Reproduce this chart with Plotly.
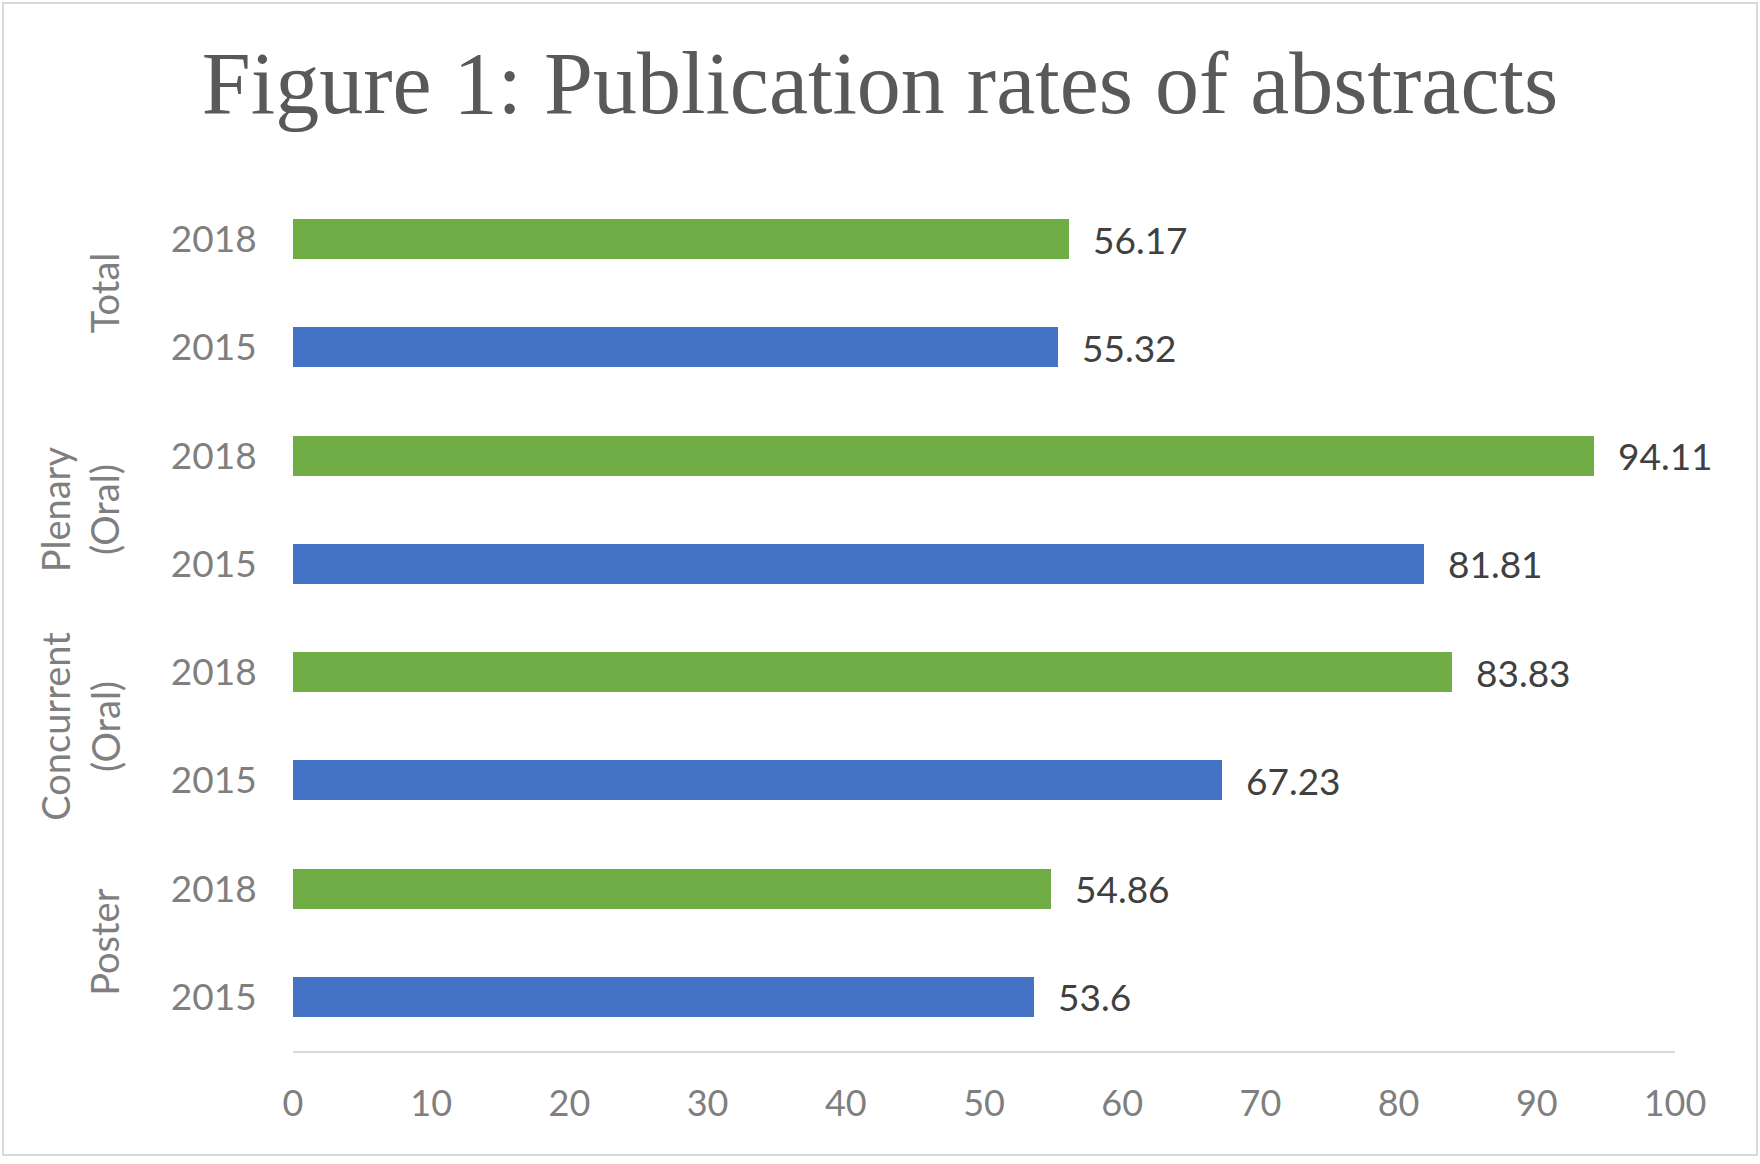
import plotly.graph_objects as go

groups = ["Poster", "Concurrent (Oral)", "Plenary (Oral)", "Total"]
group_labels = ["Poster", "Concurrent<br>(Oral)", "Plenary<br>(Oral)", "Total"]
years = ["2015", "2018"]
rate_2015 = [53.6, 67.23, 81.81, 55.32]
rate_2018 = [54.86, 83.83, 94.11, 56.17]
x_ticks = [0, 10, 20, 30, 40, 50, 60, 70, 80, 90, 100]

W, H = 1760, 1164
ML, MR, MT, MB = 293, 85, 185, 113

pos_2015 = [2 * i for i in range(len(groups))]
pos_2018 = [2 * i + 1 for i in range(len(groups))]

fig = go.Figure()
annotations = []
for yr, pos, vals, col in [("2015", pos_2015, rate_2015, "#4472C4"),
                           ("2018", pos_2018, rate_2018, "#70AD47")]:
    fig.add_trace(go.Bar(
        x=vals, y=pos, orientation="h", width=0.37,
        marker=dict(color=col, line=dict(width=0)),
        name=yr, showlegend=False, hoverinfo="skip",
    ))
    for v, p in zip(vals, pos):
        annotations.append(dict(
            text=f"{v:g}", x=v, xref="x", y=p, yref="y", xanchor="left",
            yanchor="middle", xshift=22, yshift=0, showarrow=False,
            font=dict(family="Lato", size=37, color="#404040"),
        ))

tickvals = []
ticktext = []
for i in range(len(groups)):
    tickvals += [pos_2015[i], pos_2018[i]]
    ticktext += years

for i, lab in enumerate(group_labels):
    annotations.append(dict(
        text=lab, x=0, xref="paper", y=(pos_2015[i] + pos_2018[i]) / 2, yref="y",
        xanchor="right", yanchor="middle", textangle=-90, xshift=-164,
        showarrow=False, align="center",
        font=dict(family="Lato", size=38, color="#7f7f7f"),
    ))

pw = W - ML - MR
ph = H - MT - MB
fig.add_shape(type="rect", xref="paper", yref="paper",
              x0=(3 - ML) / pw, x1=(W - 3 - ML) / pw,
              y0=-(H - 9 - MT - ph) / ph, y1=1 + (MT - 3) / ph,
              line=dict(color="#d9d9d9", width=2), fillcolor="rgba(0,0,0,0)", layer="below")

fig.update_layout(
    width=W, height=H,
    margin=dict(l=ML, r=MR, t=MT, b=MB),
    paper_bgcolor="white", plot_bgcolor="white",
    title=dict(text="Figure 1: Publication rates of abstracts", x=0.5, xref="container",
               xanchor="center", y=1 - 82 / H, yref="container", yanchor="middle",
               font=dict(family="Liberation Serif", size=88, color="#595959")),
    xaxis=dict(range=[0, 100], tickvals=x_ticks, showgrid=False, zeroline=False,
               showline=True, linecolor="#d9d9d9", linewidth=2,
               ticks="outside", ticklen=20, tickcolor="rgba(0,0,0,0)",
               tickfont=dict(family="Lato", size=36, color="#7f7f7f")),
    yaxis=dict(range=[-0.5, 7.5], tickvals=tickvals, ticktext=ticktext,
               showgrid=False, zeroline=False, showline=False,
               ticks="outside", ticklen=28, tickcolor="rgba(0,0,0,0)",
               tickfont=dict(family="Lato", size=37, color="#7f7f7f")),
    annotations=annotations,
    bargap=0,
)

fig.write_html("out.html", config={"displayModeBar": False},
               post_script="document.body.style.margin='0';")
